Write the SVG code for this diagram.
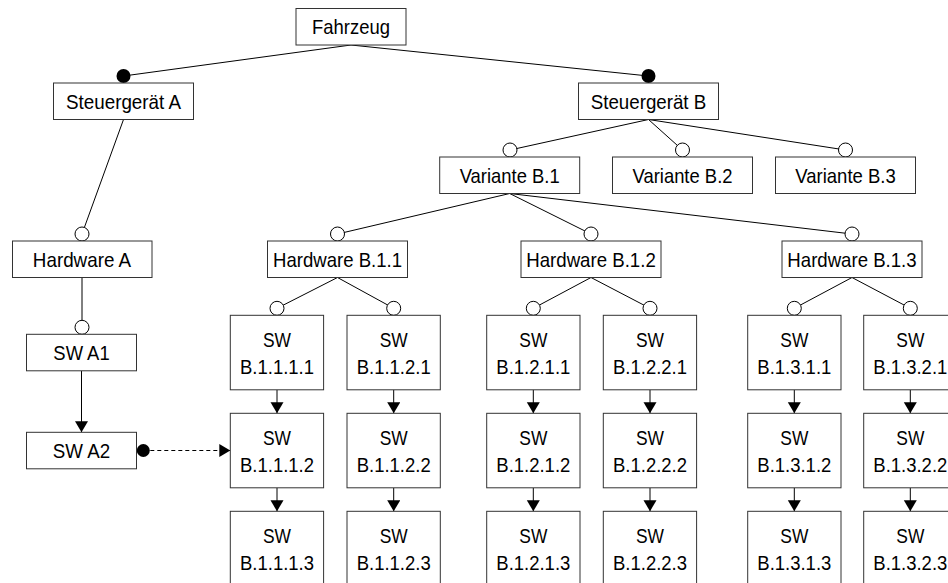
<svg xmlns="http://www.w3.org/2000/svg" width="948" height="583" viewBox="0 0 948 583">
<style>
.box{fill:#fff;stroke:#333;stroke-width:1}
.lbl{font-family:"Liberation Sans",Arial,sans-serif;font-size:21px;text-anchor:middle;fill:#000}
.ln{stroke:#000;stroke-width:1;fill:none}
.oc{fill:#fff;stroke:#000;stroke-width:1}
.fc{fill:#000}
.dash{stroke:#000;stroke-width:1;fill:none;stroke-dasharray:4,3}
</style>
<defs>
<marker id="arr" markerUnits="userSpaceOnUse" markerWidth="12" markerHeight="14" refX="11" refY="6.5" orient="auto">
<path d="M0,0 L11,6.5 L0,13 z" fill="#000"/>
</marker>
</defs>
<rect width="948" height="583" fill="#fff"/>
<g id="connectors">
<line class="ln" x1="351" y1="45" x2="123.5" y2="76"/>
<line class="ln" x1="351" y1="45" x2="648.5" y2="76"/>
<line class="ln" x1="123.5" y1="119.5" x2="82" y2="234"/>
<line class="ln" x1="648.5" y1="119.5" x2="510" y2="150"/>
<line class="ln" x1="648.5" y1="119.5" x2="682.5" y2="150"/>
<line class="ln" x1="648.5" y1="119.5" x2="845.5" y2="150"/>
<line class="ln" x1="509.7" y1="193.5" x2="337.5" y2="234"/>
<line class="ln" x1="509.7" y1="193.5" x2="591" y2="234"/>
<line class="ln" x1="509.7" y1="193.5" x2="852" y2="234"/>
<line class="ln" x1="82" y1="277.5" x2="82" y2="327.3"/>
<line class="ln" x1="337.5" y1="277.5" x2="277" y2="308.3"/>
<line class="ln" x1="337.5" y1="277.5" x2="393.7" y2="308.3"/>
<line class="ln" x1="591" y1="277.5" x2="533.3" y2="308.3"/>
<line class="ln" x1="591" y1="277.5" x2="650" y2="308.3"/>
<line class="ln" x1="852" y1="277.5" x2="794.3" y2="308.3"/>
<line class="ln" x1="852" y1="277.5" x2="910.3" y2="308.3"/>
<line class="ln" x1="81.5" y1="370.8" x2="81.5" y2="432.3" marker-end="url(#arr)"/>
<line class="ln" x1="277" y1="389.8" x2="277" y2="413.3" marker-end="url(#arr)"/>
<line class="ln" x1="277" y1="487.8" x2="277" y2="511.3" marker-end="url(#arr)"/>
<line class="ln" x1="393.7" y1="389.8" x2="393.7" y2="413.3" marker-end="url(#arr)"/>
<line class="ln" x1="393.7" y1="487.8" x2="393.7" y2="511.3" marker-end="url(#arr)"/>
<line class="ln" x1="533.3" y1="389.8" x2="533.3" y2="413.3" marker-end="url(#arr)"/>
<line class="ln" x1="533.3" y1="487.8" x2="533.3" y2="511.3" marker-end="url(#arr)"/>
<line class="ln" x1="650" y1="389.8" x2="650" y2="413.3" marker-end="url(#arr)"/>
<line class="ln" x1="650" y1="487.8" x2="650" y2="511.3" marker-end="url(#arr)"/>
<line class="ln" x1="794.3" y1="389.8" x2="794.3" y2="413.3" marker-end="url(#arr)"/>
<line class="ln" x1="794.3" y1="487.8" x2="794.3" y2="511.3" marker-end="url(#arr)"/>
<line class="ln" x1="910.3" y1="389.8" x2="910.3" y2="413.3" marker-end="url(#arr)"/>
<line class="ln" x1="910.3" y1="487.8" x2="910.3" y2="511.3" marker-end="url(#arr)"/>
<line class="dash" x1="143.3" y1="450.5" x2="230.3" y2="450.5" marker-end="url(#arr)"/>
<circle class="fc" cx="123.5" cy="76" r="7"/>
<circle class="fc" cx="648.5" cy="76" r="7"/>
<circle class="fc" cx="143.3" cy="450.5" r="6.5"/>
<circle class="oc" cx="510" cy="150" r="7"/>
<circle class="oc" cx="682.5" cy="150" r="7"/>
<circle class="oc" cx="845.5" cy="150" r="7"/>
<circle class="oc" cx="82" cy="234" r="7"/>
<circle class="oc" cx="337.5" cy="234" r="7"/>
<circle class="oc" cx="591" cy="234" r="7"/>
<circle class="oc" cx="852" cy="234" r="7"/>
<circle class="oc" cx="82" cy="327.3" r="7"/>
<circle class="oc" cx="277" cy="308.3" r="7"/>
<circle class="oc" cx="393.7" cy="308.3" r="7"/>
<circle class="oc" cx="533.3" cy="308.3" r="7"/>
<circle class="oc" cx="650" cy="308.3" r="7"/>
<circle class="oc" cx="794.3" cy="308.3" r="7"/>
<circle class="oc" cx="910.3" cy="308.3" r="7"/>
</g>
<g id="fahrzeug"><rect class="box" x="296" y="8.5" width="110" height="36.5"/><text class="lbl" x="351" y="34.3" textLength="78" lengthAdjust="spacingAndGlyphs">Fahrzeug</text></g>
<g id="steuergeraet-a"><rect class="box" x="53.5" y="83" width="140" height="36.5"/><text class="lbl" x="123.5" y="109" textLength="115" lengthAdjust="spacingAndGlyphs">Steuergerät A</text></g>
<g id="steuergeraet-b"><rect class="box" x="578.5" y="83" width="140" height="36.5"/><text class="lbl" x="648.5" y="109" textLength="115.5" lengthAdjust="spacingAndGlyphs">Steuergerät B</text></g>
<g id="variante-b1"><rect class="box" x="439.7" y="157" width="140" height="36.5"/><text class="lbl" x="509.7" y="183" textLength="100" lengthAdjust="spacingAndGlyphs">Variante B.1</text></g>
<g id="variante-b2"><rect class="box" x="612.5" y="157" width="140" height="36.5"/><text class="lbl" x="682.5" y="183" textLength="100" lengthAdjust="spacingAndGlyphs">Variante B.2</text></g>
<g id="variante-b3"><rect class="box" x="775.5" y="157" width="140" height="36.5"/><text class="lbl" x="845.5" y="183" textLength="100.5" lengthAdjust="spacingAndGlyphs">Variante B.3</text></g>
<g id="hardware-a"><rect class="box" x="12.5" y="241" width="139.5" height="36.5"/><text class="lbl" x="82" y="267" textLength="98.3" lengthAdjust="spacingAndGlyphs">Hardware A</text></g>
<g id="hardware-b11"><rect class="box" x="267.5" y="241" width="140" height="36.5"/><text class="lbl" x="337.5" y="267" textLength="129" lengthAdjust="spacingAndGlyphs">Hardware B.1.1</text></g>
<g id="hardware-b12"><rect class="box" x="521" y="241" width="140" height="36.5"/><text class="lbl" x="591" y="267" textLength="129.5" lengthAdjust="spacingAndGlyphs">Hardware B.1.2</text></g>
<g id="hardware-b13"><rect class="box" x="782" y="241" width="140" height="36.5"/><text class="lbl" x="852" y="267" textLength="129.3" lengthAdjust="spacingAndGlyphs">Hardware B.1.3</text></g>
<g id="sw-a1"><rect class="box" x="26.5" y="334.3" width="110" height="36.5"/><text class="lbl" x="81.5" y="360.3" textLength="56.3" lengthAdjust="spacingAndGlyphs">SW A1</text></g>
<g id="sw-a2"><rect class="box" x="26.5" y="432.3" width="110" height="36.5"/><text class="lbl" x="81.5" y="458.3" textLength="57.3" lengthAdjust="spacingAndGlyphs">SW A2</text></g>
<g id="sw-b1111"><rect class="box" x="230.3" y="315.3" width="93.3" height="74.5"/><text class="lbl" x="277" y="346.5" textLength="28" lengthAdjust="spacingAndGlyphs">SW</text><text class="lbl" x="277" y="373.5" textLength="74" lengthAdjust="spacingAndGlyphs">B.1.1.1.1</text></g>
<g id="sw-b1112"><rect class="box" x="230.3" y="413.3" width="93.3" height="74.5"/><text class="lbl" x="277" y="444.5" textLength="28" lengthAdjust="spacingAndGlyphs">SW</text><text class="lbl" x="277" y="471.5" textLength="74" lengthAdjust="spacingAndGlyphs">B.1.1.1.2</text></g>
<g id="sw-b1113"><rect class="box" x="230.3" y="511.3" width="93.3" height="74.5"/><text class="lbl" x="277" y="542.5" textLength="28" lengthAdjust="spacingAndGlyphs">SW</text><text class="lbl" x="277" y="569.5" textLength="74" lengthAdjust="spacingAndGlyphs">B.1.1.1.3</text></g>
<g id="sw-b1121"><rect class="box" x="347" y="315.3" width="93.3" height="74.5"/><text class="lbl" x="393.7" y="346.5" textLength="28" lengthAdjust="spacingAndGlyphs">SW</text><text class="lbl" x="393.7" y="373.5" textLength="74" lengthAdjust="spacingAndGlyphs">B.1.1.2.1</text></g>
<g id="sw-b1122"><rect class="box" x="347" y="413.3" width="93.3" height="74.5"/><text class="lbl" x="393.7" y="444.5" textLength="28" lengthAdjust="spacingAndGlyphs">SW</text><text class="lbl" x="393.7" y="471.5" textLength="74" lengthAdjust="spacingAndGlyphs">B.1.1.2.2</text></g>
<g id="sw-b1123"><rect class="box" x="347" y="511.3" width="93.3" height="74.5"/><text class="lbl" x="393.7" y="542.5" textLength="28" lengthAdjust="spacingAndGlyphs">SW</text><text class="lbl" x="393.7" y="569.5" textLength="74" lengthAdjust="spacingAndGlyphs">B.1.1.2.3</text></g>
<g id="sw-b1211"><rect class="box" x="486.7" y="315.3" width="93.3" height="74.5"/><text class="lbl" x="533.3" y="346.5" textLength="28" lengthAdjust="spacingAndGlyphs">SW</text><text class="lbl" x="533.3" y="373.5" textLength="74" lengthAdjust="spacingAndGlyphs">B.1.2.1.1</text></g>
<g id="sw-b1212"><rect class="box" x="486.7" y="413.3" width="93.3" height="74.5"/><text class="lbl" x="533.3" y="444.5" textLength="28" lengthAdjust="spacingAndGlyphs">SW</text><text class="lbl" x="533.3" y="471.5" textLength="74" lengthAdjust="spacingAndGlyphs">B.1.2.1.2</text></g>
<g id="sw-b1213"><rect class="box" x="486.7" y="511.3" width="93.3" height="74.5"/><text class="lbl" x="533.3" y="542.5" textLength="28" lengthAdjust="spacingAndGlyphs">SW</text><text class="lbl" x="533.3" y="569.5" textLength="74" lengthAdjust="spacingAndGlyphs">B.1.2.1.3</text></g>
<g id="sw-b1221"><rect class="box" x="603.3" y="315.3" width="93.3" height="74.5"/><text class="lbl" x="650" y="346.5" textLength="28" lengthAdjust="spacingAndGlyphs">SW</text><text class="lbl" x="650" y="373.5" textLength="74" lengthAdjust="spacingAndGlyphs">B.1.2.2.1</text></g>
<g id="sw-b1222"><rect class="box" x="603.3" y="413.3" width="93.3" height="74.5"/><text class="lbl" x="650" y="444.5" textLength="28" lengthAdjust="spacingAndGlyphs">SW</text><text class="lbl" x="650" y="471.5" textLength="74" lengthAdjust="spacingAndGlyphs">B.1.2.2.2</text></g>
<g id="sw-b1223"><rect class="box" x="603.3" y="511.3" width="93.3" height="74.5"/><text class="lbl" x="650" y="542.5" textLength="28" lengthAdjust="spacingAndGlyphs">SW</text><text class="lbl" x="650" y="569.5" textLength="74" lengthAdjust="spacingAndGlyphs">B.1.2.2.3</text></g>
<g id="sw-b1311"><rect class="box" x="747.7" y="315.3" width="93.3" height="74.5"/><text class="lbl" x="794.3" y="346.5" textLength="28" lengthAdjust="spacingAndGlyphs">SW</text><text class="lbl" x="794.3" y="373.5" textLength="74" lengthAdjust="spacingAndGlyphs">B.1.3.1.1</text></g>
<g id="sw-b1312"><rect class="box" x="747.7" y="413.3" width="93.3" height="74.5"/><text class="lbl" x="794.3" y="444.5" textLength="28" lengthAdjust="spacingAndGlyphs">SW</text><text class="lbl" x="794.3" y="471.5" textLength="74" lengthAdjust="spacingAndGlyphs">B.1.3.1.2</text></g>
<g id="sw-b1313"><rect class="box" x="747.7" y="511.3" width="93.3" height="74.5"/><text class="lbl" x="794.3" y="542.5" textLength="28" lengthAdjust="spacingAndGlyphs">SW</text><text class="lbl" x="794.3" y="569.5" textLength="74" lengthAdjust="spacingAndGlyphs">B.1.3.1.3</text></g>
<g id="sw-b1321"><rect class="box" x="863.7" y="315.3" width="93.3" height="74.5"/><text class="lbl" x="910.3" y="346.5" textLength="28" lengthAdjust="spacingAndGlyphs">SW</text><text class="lbl" x="910.3" y="373.5" textLength="74" lengthAdjust="spacingAndGlyphs">B.1.3.2.1</text></g>
<g id="sw-b1322"><rect class="box" x="863.7" y="413.3" width="93.3" height="74.5"/><text class="lbl" x="910.3" y="444.5" textLength="28" lengthAdjust="spacingAndGlyphs">SW</text><text class="lbl" x="910.3" y="471.5" textLength="74" lengthAdjust="spacingAndGlyphs">B.1.3.2.2</text></g>
<g id="sw-b1323"><rect class="box" x="863.7" y="511.3" width="93.3" height="74.5"/><text class="lbl" x="910.3" y="542.5" textLength="28" lengthAdjust="spacingAndGlyphs">SW</text><text class="lbl" x="910.3" y="569.5" textLength="74" lengthAdjust="spacingAndGlyphs">B.1.3.2.3</text></g>
</svg>
